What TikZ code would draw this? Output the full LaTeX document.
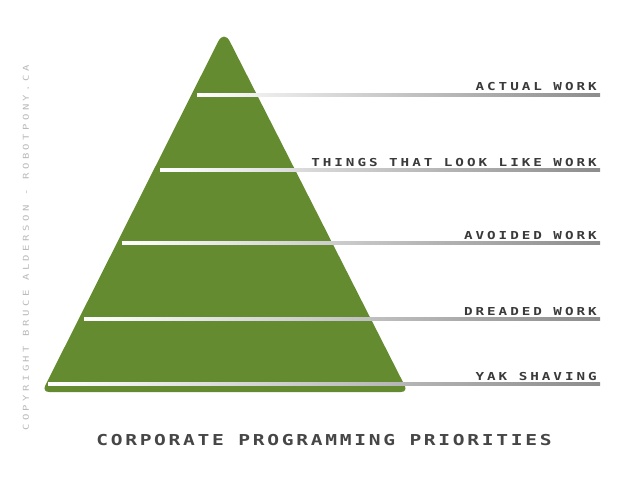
\documentclass[tikz,border=0pt]{standalone}
\usepackage{fontspec}
\definecolor{pyrgreen}{RGB}{100,139,47}
\definecolor{lbltext}{RGB}{58,58,58}
\definecolor{titletext}{RGB}{70,70,70}
\definecolor{copytext}{RGB}{185,185,185}
\newfontfamily\pixfont[LetterSpace=27, FakeStretch=1.3]{DejaVu Sans Mono Bold}
\newfontfamily\pixtitlefont[LetterSpace=18, FakeStretch=1.3]{DejaVu Sans Mono Bold}
\newfontfamily\pixcopyfont[LetterSpace=42, FakeStretch=1.3]{DejaVu Sans Mono}

\begin{document}
\begin{tikzpicture}[
    x=0.025cm, y=-0.025cm,
    barshade/.style={left color=white, right color=black!45},
    worklbl/.style={font=\pixfont\fontsize{7.8}{9}\selectfont, text=lbltext, anchor=base east, inner sep=0pt},
    titlelbl/.style={font=\pixtitlefont\fontsize{10.7}{12}\selectfont, text=titletext, inner sep=0pt},
    copylbl/.style={font=\pixcopyfont\fontsize{5.8}{7}\selectfont, text=copytext, inner sep=0pt, rotate=90}
]
\useasboundingbox (0,0) rectangle (640,480);

% === Macro: barra con etiqueta a la derecha ===
% #1=y, #2=x inicial, #3=nombre, #4=texto
\newcommand{\workbar}[4]{%
    \shade[barshade] (#2,#1-1.5) rectangle (600,#1+1.5);
    \node[worklbl] (#3) at (597,#1-4) {#4};
}

% === Piramide ===
\fill[pyrgreen] (225,392) [rounded corners=5pt] -- (42,392)
    [rounded corners=9pt] -- (224,30) [rounded corners=5pt] -- (408,392) -- cycle;

% === Niveles ===
\workbar{95}{197}{actual}{ACTUAL WORK}
\workbar{170}{160}{looklike}{THINGS THAT LOOK LIKE WORK}
\workbar{243}{122}{avoided}{AVOIDED WORK}
\workbar{319}{84}{dreaded}{DREADED WORK}
\workbar{384}{48}{yak}{YAK SHAVING}

% === Titulo y copyright ===
\node[titlelbl] (title) at (324,440) {CORPORATE PROGRAMMING PRIORITIES};
\node[copylbl] (copyright) at (26,248) {COPYRIGHT BRUCE ALDERSON - ROBOTPONY.CA};

\end{tikzpicture}
\end{document}
